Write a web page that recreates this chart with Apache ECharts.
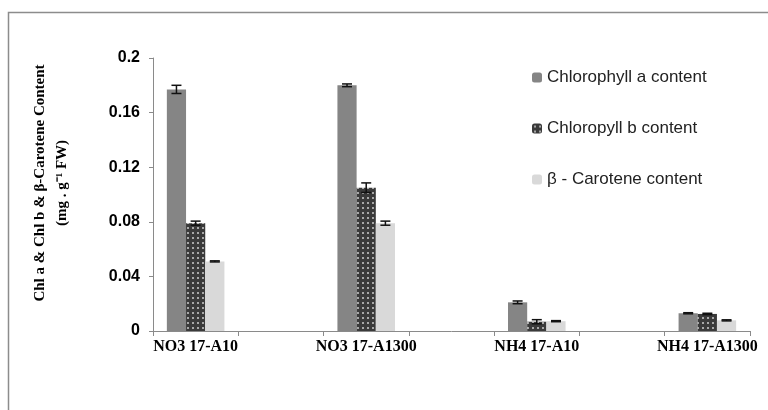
<!DOCTYPE html>
<html>
<head>
<meta charset="utf-8">
<script src="https://cdn.jsdelivr.net/npm/echarts@6/dist/echarts.min.js"></script>
<style>html,body{margin:0;padding:0;background:#fff;}#c{width:768px;height:410px;}</style>
</head>
<body>
<div id="c"></div>
<script>
const categories = ['NO3 17-A10', '', 'NO3 17-A1300', '', 'NH4 17-A10', '', 'NH4 17-A1300'];
const seriesNames = ['Chlorophyll a content', 'Chloropyll b content', 'β - Carotene content'];
const chlA = [0.177, null, 0.180, null, 0.021, null, 0.013];
const chlB = [0.079, null, 0.105, null, 0.0068, null, 0.0125];
const carotene = [0.051, null, 0.079, null, 0.0072, null, 0.0078];
const chlAErr = [0.003, null, 0.001, null, 0.001, null, 0.0004];
const chlBErr = [0.0015, null, 0.0035, null, 0.0015, null, 0.0005];
const caroteneErr = [0.0004, null, 0.0015, null, 0.0004, null, 0.0004];
const yTicks = {min: 0, max: 0.2, interval: 0.04};

function makePattern() {
  const c = document.createElement('canvas');
  c.width = 5; c.height = 5;
  const g = c.getContext('2d');
  g.fillStyle = '#3a3a3a'; g.fillRect(0, 0, 5, 5);
  g.fillStyle = '#a8a8a8'; g.fillRect(2, 2, 2, 2);
  return c;
}
const colors = ['#858585', {image: makePattern(), repeat: 'repeat'}, '#d9d9d9'];
const values = [chlA, chlB, carotene];
const errs = [chlAErr, chlBErr, caroteneErr];
const BAR_FRAC = 0.225;

const chart = echarts.init(document.getElementById('c'));
const series = [];
values.forEach((vals, i) => {
  series.push({
    name: seriesNames[i], type: 'bar', data: vals, barWidth: (BAR_FRAC * 100) + '%', barGap: '0%',
    itemStyle: {color: colors[i]}
  });
});
values.forEach((vals, i) => {
  const data = [];
  vals.forEach((v, k) => { if (v != null) data.push([k, v, errs[i][k]]); });
  series.push({
    type: 'custom', data: data, z: 10, silent: true,
    renderItem: function (params, api) {
      const idx = api.value(0), v = api.value(1), e = api.value(2);
      const bw = api.size([1, 0])[0] * BAR_FRAC;
      const cx = api.coord([idx, v])[0] + (i - 1) * bw;
      const yT = api.coord([idx, v + e])[1];
      const yB = api.coord([idx, v - e])[1];
      const hw = 5;
      const st = {stroke: '#111', lineWidth: 1.5};
      return {type: 'group', children: [
        {type: 'line', shape: {x1: cx, y1: yT, x2: cx, y2: yB}, style: st},
        {type: 'line', shape: {x1: cx - hw, y1: yT, x2: cx + hw, y2: yT}, style: st},
        {type: 'line', shape: {x1: cx - hw, y1: yB, x2: cx + hw, y2: yB}, style: st}
      ]};
    }
  });
});

chart.setOption({
  animation: false,
  backgroundColor: '#fff',
  grid: {left: 153, right: 18, top: 58, bottom: 79, containLabel: false},
  legend: {
    orient: 'vertical', left: 527, top: 64, itemWidth: 10, itemHeight: 10, itemGap: 34,
    data: seriesNames,
    textStyle: {fontFamily: 'Liberation Sans', fontSize: 17, color: '#222'}
  },
  xAxis: {
    type: 'category', data: categories,
    axisLine: {lineStyle: {color: '#8a8a8a', width: 1}},
    axisTick: {show: true, length: 5, lineStyle: {color: '#8a8a8a'}},
    axisLabel: {interval: 0, margin: 8, fontFamily: 'Liberation Serif', fontWeight: 'bold', fontSize: 16, color: '#000'}
  },
  yAxis: {
    type: 'value', min: yTicks.min, max: yTicks.max, interval: yTicks.interval,
    splitLine: {show: false},
    axisLine: {show: true, lineStyle: {color: '#8a8a8a', width: 1}},
    axisTick: {show: true, length: 4, lineStyle: {color: '#8a8a8a'}},
    axisLabel: {margin: 13, fontFamily: 'Liberation Sans', fontWeight: 'bold', fontSize: 16, color: '#000'}
  },
  graphic: [
    {type: 'rect', shape: {x: 8.5, y: 12.5, width: 800, height: 500}, style: {fill: 'none', stroke: '#8c8c8c', lineWidth: 1.5}, silent: true},
    {type: 'text', x: 51, y: 183, rotation: Math.PI / 2,
      style: {
        text: 'Chl a & Chl b & β-Carotene Content\n(mg . g⁻¹ FW)',
        align: 'center', verticalAlign: 'middle', lineHeight: 22,
        font: 'bold 15px "Liberation Serif"', fill: '#000'
      }}
  ],
  series: series
});
</script>
</body>
</html>
